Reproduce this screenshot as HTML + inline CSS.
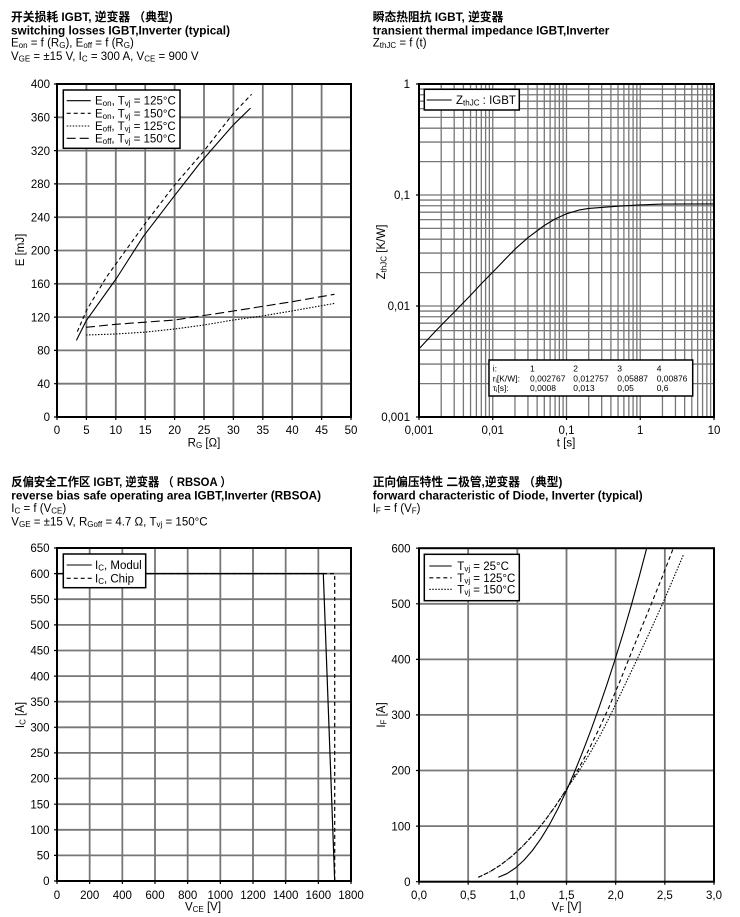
<!DOCTYPE html>
<html><head><meta charset="utf-8"><style>
html,body{margin:0;padding:0;background:#fff;}
svg{display:block;}
text{font-family:"Liberation Sans","Noto Sans CJK SC",sans-serif;fill:#000;}
</style></head><body>
<svg width="740" height="917" viewBox="0 0 740 917" xmlns="http://www.w3.org/2000/svg">
<rect width="740" height="917" fill="#fff"/>

<!-- ================= CHART 1 ================= -->
<text x="11" y="21" font-size="12" font-weight="bold" textLength="161.7" lengthAdjust="spacingAndGlyphs">开关损耗 IGBT, 逆变器 （典型)</text>
<text x="11" y="34.3" font-size="12" font-weight="bold" textLength="219" lengthAdjust="spacingAndGlyphs">switching losses IGBT,Inverter (typical)</text>
<text x="11" y="46.7" font-size="11.5">E<tspan font-size="8" dy="1.5">on</tspan><tspan dy="-1.5"> = f (R</tspan><tspan font-size="8" dy="1.5">G</tspan><tspan dy="-1.5">), E</tspan><tspan font-size="8" dy="1.5">off</tspan><tspan dy="-1.5"> = f (R</tspan><tspan font-size="8" dy="1.5">G</tspan><tspan dy="-1.5">)</tspan></text>
<text x="11" y="60" font-size="11.5">V<tspan font-size="8" dy="1.5">GE</tspan><tspan dy="-1.5"> = ±15 V, I</tspan><tspan font-size="8" dy="1.5">C</tspan><tspan dy="-1.5"> = 300 A, V</tspan><tspan font-size="8" dy="1.5">CE</tspan><tspan dy="-1.5"> = 900 V</tspan></text>

<path d="M86.4 84V417M115.8 84V417M145.2 84V417M174.6 84V417M204 84V417M233.4 84V417M262.8 84V417M292.2 84V417M321.6 84V417M57 383.7H351M57 350.4H351M57 317.1H351M57 283.8H351M57 250.5H351M57 217.2H351M57 183.9H351M57 150.6H351M57 117.3H351" stroke="#777" stroke-width="1.8" fill="none"/>
<path d="M54 84H57M54 117.3H57M54 150.6H57M54 183.9H57M54 217.2H57M54 250.5H57M54 283.8H57M54 317.1H57M54 350.4H57M54 383.7H57M54 417H57M57 417V420M86.4 417V420M115.8 417V420M145.2 417V420M174.6 417V420M204 417V420M233.4 417V420M262.8 417V420M292.2 417V420M321.6 417V420M351 417V420" stroke="#000" stroke-width="1.2"/>

<g fill="none" stroke="#000" stroke-width="1.1" stroke-linejoin="round">
<polyline points="76.4,340.4 86.4,320.4 116.7,278.0 143.4,236.3 174.6,195.6 199.9,163.1 233.4,124.8 250.5,108.1"/>
<polyline stroke-dasharray="4,3" points="77.3,331.7 86.7,310.0 106.7,276.7 145.2,223.4 174.6,185.0 203.4,151.7 233.4,113.3 251.6,94.3"/>
<polyline stroke-dasharray="1.5,1.5" points="86.0,335.0 115.8,334.0 145.2,332.1 174.6,329.0 204,325.0 233.4,320.0 262.8,315.9 293.4,310.7 335.1,303.3"/>
<polyline stroke-dasharray="9,4" points="86.0,327.3 115.8,324.3 174.6,320.0 233.4,311.0 292.2,301.7 334.5,294.3"/>
</g>
<rect x="57" y="84" width="294" height="333" fill="none" stroke="#000" stroke-width="2"/>

<rect x="63.3" y="90" width="116.7" height="58.3" fill="#fff" stroke="#000" stroke-width="1.5"/>
<g stroke="#000" stroke-width="1.1">
<line x1="66.7" y1="100.7" x2="90.7" y2="100.7"/>
<line x1="66.7" y1="113.3" x2="90.7" y2="113.3" stroke-dasharray="4,3"/>
<line x1="66.7" y1="126" x2="90.7" y2="126" stroke-dasharray="1.5,1.5"/>
<line x1="66.7" y1="138.3" x2="90.7" y2="138.3" stroke-dasharray="9,4"/>
</g>
<g font-size="11.5">
<text x="95" y="104.7">E<tspan font-size="8" dy="1.5">on</tspan><tspan dy="-1.5">,  T</tspan><tspan font-size="8" dy="1.5">vj</tspan><tspan dy="-1.5"> = 125°C</tspan></text>
<text x="95" y="117.3">E<tspan font-size="8" dy="1.5">on</tspan><tspan dy="-1.5">,  T</tspan><tspan font-size="8" dy="1.5">vj</tspan><tspan dy="-1.5"> = 150°C</tspan></text>
<text x="95" y="130">E<tspan font-size="8" dy="1.5">off</tspan><tspan dy="-1.5">,  T</tspan><tspan font-size="8" dy="1.5">vj</tspan><tspan dy="-1.5"> = 125°C</tspan></text>
<text x="95" y="142.3">E<tspan font-size="8" dy="1.5">off</tspan><tspan dy="-1.5">,  T</tspan><tspan font-size="8" dy="1.5">vj</tspan><tspan dy="-1.5"> = 150°C</tspan></text>
</g>

<g font-size="11.5" text-anchor="end">
<text x="50" y="88.2">400</text><text x="50" y="121.5">360</text><text x="50" y="154.8">320</text><text x="50" y="188.1">280</text><text x="50" y="221.4">240</text><text x="50" y="254.7">200</text><text x="50" y="288">160</text><text x="50" y="321.3">120</text><text x="50" y="354.6">80</text><text x="50" y="387.9">40</text><text x="50" y="421.2">0</text>
</g>
<g font-size="11.5" text-anchor="middle">
<text x="57" y="434">0</text><text x="86.4" y="434">5</text><text x="115.8" y="434">10</text><text x="145.2" y="434">15</text><text x="174.6" y="434">20</text><text x="204" y="434">25</text><text x="233.4" y="434">30</text><text x="262.8" y="434">35</text><text x="292.2" y="434">40</text><text x="321.6" y="434">45</text><text x="351" y="434">50</text>
<text x="204" y="446.5">R<tspan font-size="8" dy="1.5">G</tspan><tspan dy="-1.5"> [Ω]</tspan></text>
<text transform="translate(24,250) rotate(-90)">E [mJ]</text>
</g>

<!-- ================= CHART 2 ================= -->
<text x="372.7" y="21" font-size="12" font-weight="bold" textLength="130.7" lengthAdjust="spacingAndGlyphs">瞬态热阻抗 IGBT, 逆变器</text>
<text x="372.7" y="34.3" font-size="12" font-weight="bold" textLength="236.7" lengthAdjust="spacingAndGlyphs">transient thermal impedance IGBT,Inverter</text>
<text x="372.7" y="46.7" font-size="11.5">Z<tspan font-size="8" dy="1.5">thJC</tspan><tspan dy="-1.5"> = f (t)</tspan></text>

<path d="M441.2 84V417M454.19 84V417M463.4 84V417M470.55 84V417M476.39 84V417M481.32 84V417M485.6 84V417M489.36 84V417M492.75 84V417M514.95 84V417M527.94 84V417M537.15 84V417M544.3 84V417M550.14 84V417M555.07 84V417M559.35 84V417M563.11 84V417M566.5 84V417M588.7 84V417M601.69 84V417M610.9 84V417M618.05 84V417M623.89 84V417M628.82 84V417M633.1 84V417M636.86 84V417M640.25 84V417M662.45 84V417M675.44 84V417M684.65 84V417M691.8 84V417M697.64 84V417M702.57 84V417M706.85 84V417M710.61 84V417M419 383.59H714M419 364.04H714M419 350.17H714M419 339.41H714M419 330.63H714M419 323.2H714M419 316.76H714M419 311.08H714M419 306H714M419 272.59H714M419 253.04H714M419 239.17H714M419 228.41H714M419 219.63H714M419 212.2H714M419 205.76H714M419 200.08H714M419 195H714M419 161.59H714M419 142.04H714M419 128.17H714M419 117.41H714M419 108.63H714M419 101.2H714M419 94.76H714M419 89.08H714" stroke="#777" stroke-width="1.3" fill="none"/>
<path d="M416 84H419M416 195H419M416 306H419M416 417H419M419 417V420M492.75 417V420M566.5 417V420M640.25 417V420M714 417V420" stroke="#000" stroke-width="1.2"/>
<polyline fill="none" stroke="#000" stroke-width="1.1" stroke-linejoin="round" points="419,348.9 432.0,334.9 441.2,325.3 454.2,312.1 470.6,295.2 481.3,283.7 493.25,271.6 514.95,249.2 527.9,237.7 544.3,225.5 555.1,219.0 566.5,213.8 579.5,209.9 588.7,208.4 618.0,206.2 640.25,204.9 662.4,204.1 714,203.9"/>
<rect x="419" y="84" width="295" height="333" fill="none" stroke="#000" stroke-width="2"/>

<rect x="424.3" y="89.3" width="95" height="20.7" fill="#fff" stroke="#000" stroke-width="1.5"/>
<line x1="426.7" y1="100" x2="451.7" y2="100" stroke="#000" stroke-width="1.1"/>
<text x="456" y="104" font-size="11.5">Z<tspan font-size="8" dy="1.5">thJC</tspan><tspan dy="-1.5"> : IGBT</tspan></text>

<rect x="489" y="360" width="203.7" height="36" fill="#fff" stroke="#000" stroke-width="1.5"/>
<g font-size="8.5">
<text x="492.7" y="371.7">i:</text><text x="530" y="371.7">1</text><text x="573.3" y="371.7">2</text><text x="617.3" y="371.7">3</text><text x="656.7" y="371.7">4</text>
<text x="492.7" y="381.5">r<tspan font-size="6" dy="1">i</tspan><tspan dy="-1">[K/W]:</tspan></text><text x="530" y="381.5">0,002767</text><text x="573.3" y="381.5">0,012757</text><text x="617.3" y="381.5">0,05887</text><text x="656.7" y="381.5">0,00876</text>
<text x="492.7" y="390.8">τ<tspan font-size="6" dy="1">i</tspan><tspan dy="-1">[s]:</tspan></text><text x="530" y="390.8">0,0008</text><text x="573.3" y="390.8">0,013</text><text x="617.3" y="390.8">0,05</text><text x="656.7" y="390.8">0,6</text>
</g>

<g font-size="11.5" text-anchor="end">
<text x="410" y="88.2">1</text><text x="410" y="199.2">0,1</text><text x="410" y="310.2">0,01</text><text x="410" y="421.2">0,001</text>
</g>
<g font-size="11.5" text-anchor="middle">
<text x="419" y="434">0,001</text><text x="492.75" y="434">0,01</text><text x="566.5" y="434">0,1</text><text x="640.25" y="434">1</text><text x="714" y="434">10</text>
<text x="566" y="446.5">t [s]</text>
<text transform="translate(385,252) rotate(-90)">Z<tspan font-size="8" dy="1.5">thJC</tspan><tspan dy="-1.5"> [K/W]</tspan></text>
</g>

<!-- ================= CHART 3 ================= -->
<text x="11.3" y="486" font-size="12" font-weight="bold" textLength="220.3" lengthAdjust="spacingAndGlyphs">反偏安全工作区 IGBT, 逆变器 （ RBSOA ）</text>
<text x="11.3" y="499.3" font-size="12" font-weight="bold" textLength="309.7" lengthAdjust="spacingAndGlyphs">reverse bias safe operating area IGBT,Inverter (RBSOA)</text>
<text x="11.3" y="512" font-size="11.5">I<tspan font-size="8" dy="1.5">C</tspan><tspan dy="-1.5"> = f (V</tspan><tspan font-size="8" dy="1.5">CE</tspan><tspan dy="-1.5">)</tspan></text>
<text x="11.3" y="525.3" font-size="11.5">V<tspan font-size="8" dy="1.5">GE</tspan><tspan dy="-1.5"> = ±15 V, R</tspan><tspan font-size="8" dy="1.5">Goff</tspan><tspan dy="-1.5"> = 4.7 Ω, T</tspan><tspan font-size="8" dy="1.5">vj</tspan><tspan dy="-1.5"> = 150°C</tspan></text>

<path d="M89.67 548V881M122.33 548V881M155 548V881M187.67 548V881M220.33 548V881M253 548V881M285.67 548V881M318.33 548V881M57 855.4H351M57 829.8H351M57 804.2H351M57 778.5H351M57 752.9H351M57 727.3H351M57 701.7H351M57 676.1H351M57 650.5H351M57 624.9H351M57 599.2H351M57 573.6H351" stroke="#777" stroke-width="1.8" fill="none"/>
<path d="M54 548H57M54 573.6H57M54 599.2H57M54 624.9H57M54 650.5H57M54 676.1H57M54 701.7H57M54 727.3H57M54 752.9H57M54 778.5H57M54 804.2H57M54 829.8H57M54 855.4H57M54 881H57M57 881V884M89.67 881V884M122.33 881V884M155 881V884M187.67 881V884M220.33 881V884M253 881V884M285.67 881V884M318.33 881V884M351 881V884" stroke="#000" stroke-width="1.2"/>
<polyline fill="none" stroke="#000" stroke-width="1.2" points="57,573.6 323.3,573.6 334.7,881"/>
<polyline fill="none" stroke="#000" stroke-width="1.2" stroke-dasharray="4,3" points="57,573.6 334.7,573.6 334.7,881"/>
<rect x="57" y="548" width="294" height="333" fill="none" stroke="#000" stroke-width="2"/>

<rect x="63.3" y="554" width="82.4" height="33.7" fill="#fff" stroke="#000" stroke-width="1.5"/>
<line x1="66.7" y1="565" x2="91.7" y2="565" stroke="#000" stroke-width="1.1"/>
<line x1="66.7" y1="578.3" x2="91.7" y2="578.3" stroke="#000" stroke-width="1.1" stroke-dasharray="4,3"/>
<g font-size="11.5">
<text x="95" y="569">I<tspan font-size="8" dy="1.5">C</tspan><tspan dy="-1.5">, Modul</tspan></text>
<text x="95" y="582.3">I<tspan font-size="8" dy="1.5">C</tspan><tspan dy="-1.5">, Chip</tspan></text>
</g>

<g font-size="11.5" text-anchor="end">
<text x="49.5" y="552.2">650</text><text x="49.5" y="577.8">600</text><text x="49.5" y="603.4">550</text><text x="49.5" y="629.1">500</text><text x="49.5" y="654.7">450</text><text x="49.5" y="680.3">400</text><text x="49.5" y="705.9">350</text><text x="49.5" y="731.5">300</text><text x="49.5" y="757.1">250</text><text x="49.5" y="782.7">200</text><text x="49.5" y="808.4">150</text><text x="49.5" y="834">100</text><text x="49.5" y="859.6">50</text><text x="49.5" y="885.2">0</text>
</g>
<g font-size="11.5" text-anchor="middle">
<text x="57" y="899">0</text><text x="89.67" y="899">200</text><text x="122.33" y="899">400</text><text x="155" y="899">600</text><text x="187.67" y="899">800</text><text x="220.33" y="899">1000</text><text x="253" y="899">1200</text><text x="285.67" y="899">1400</text><text x="318.33" y="899">1600</text><text x="351" y="899">1800</text>
<text x="203" y="910.5">V<tspan font-size="8" dy="1.5">CE</tspan><tspan dy="-1.5">   [V]</tspan></text>
<text transform="translate(24,715) rotate(-90)">I<tspan font-size="8" dy="1.5">C</tspan><tspan dy="-1.5"> [A]</tspan></text>
</g>

<!-- ================= CHART 4 ================= -->
<text x="372.7" y="486" font-size="12" font-weight="bold" textLength="189.7" lengthAdjust="spacingAndGlyphs">正向偏压特性 二极管,逆变器 （典型)</text>
<text x="372.7" y="499.3" font-size="12" font-weight="bold" textLength="270" lengthAdjust="spacingAndGlyphs">forward characteristic of Diode, Inverter (typical)</text>
<text x="372.7" y="512" font-size="11.5">I<tspan font-size="8" dy="1.5">F</tspan><tspan dy="-1.5"> = f (V</tspan><tspan font-size="8" dy="1.5">F</tspan><tspan dy="-1.5">)</tspan></text>

<path d="M468.17 548V881.7M517.33 548V881.7M566.5 548V881.7M615.67 548V881.7M664.83 548V881.7M419 826.1H714M419 770.5H714M419 714.9H714M419 659.4H714M419 603.8H714" stroke="#777" stroke-width="1.8" fill="none"/>
<path d="M416 548.2H419M416 603.8H419M416 659.4H419M416 714.9H419M416 770.5H419M416 826.1H419M416 881.7H419M419 881.7V884.7M468.17 881.7V884.7M517.33 881.7V884.7M566.5 881.7V884.7M615.67 881.7V884.7M664.83 881.7V884.7M714 881.7V884.7" stroke="#000" stroke-width="1.2"/>
<g fill="none" stroke="#000" stroke-width="1.1" stroke-linejoin="round">
<polyline points="498.3,877.3 506.85,873.69 515.4,868.0 523.95,860.23 532.5,850.37 541.05,838.43 549.6,824.4 558.15,808.29 566.7,790.1 574.75,771.38 582.8,751.46 590.85,730.33 598.9,707.99 606.95,684.44 615,659.69 623.08,633.49 631.15,605.79 639.23,576.57 646.7,548.2"/>
<polyline stroke-dasharray="4,3" points="478.3,877.3 489.35,872.05 500.4,865.14 511.45,856.58 522.5,846.36 533.55,834.48 544.6,820.94 555.65,805.75 566.7,788.9 577.25,771.1 587.8,751.6 598.35,730.3 608.9,707.3 619.45,682.5 630,656.0 641.2,628.5 652.5,601 663,575 673.3,548.2"/>
<polyline stroke-dasharray="1.5,1.5" points="478.3,877.3 489.35,872.05 500.4,865.14 511.45,856.58 522.5,846.36 533.55,834.48 544.6,820.94 555.65,805.75 566.7,788.9 577.8,772.8 588.9,755.0 600,735.6 610,716.1 623.3,688.2 636.7,660.1 649.7,632.1 662.7,603.5 673,579.3 683.3,555.1"/>
</g>
<rect x="419" y="548.2" width="295" height="333.5" fill="none" stroke="#000" stroke-width="2"/>

<rect x="424.3" y="554.3" width="95" height="46.4" fill="#fff" stroke="#000" stroke-width="1.5"/>
<g stroke="#000" stroke-width="1.1">
<line x1="429.3" y1="566" x2="451.7" y2="566"/>
<line x1="429.3" y1="577.8" x2="451.7" y2="577.8" stroke-dasharray="4,3"/>
<line x1="429.3" y1="589.3" x2="451.7" y2="589.3" stroke-dasharray="1.5,1.5"/>
</g>
<g font-size="11.5">
<text x="457.3" y="570">T<tspan font-size="8" dy="1.5">vj</tspan><tspan dy="-1.5"> = 25°C</tspan></text>
<text x="457.3" y="581.8">T<tspan font-size="8" dy="1.5">vj</tspan><tspan dy="-1.5"> = 125°C</tspan></text>
<text x="457.3" y="593.3">T<tspan font-size="8" dy="1.5">vj</tspan><tspan dy="-1.5"> = 150°C</tspan></text>
</g>

<g font-size="11.5" text-anchor="end">
<text x="410.5" y="552.4">600</text><text x="410.5" y="608">500</text><text x="410.5" y="663.6">400</text><text x="410.5" y="719.1">300</text><text x="410.5" y="774.7">200</text><text x="410.5" y="830.3">100</text><text x="410.5" y="885.9">0</text>
</g>
<g font-size="11.5" text-anchor="middle">
<text x="419" y="899">0,0</text><text x="468.17" y="899">0,5</text><text x="517.33" y="899">1,0</text><text x="566.5" y="899">1,5</text><text x="615.67" y="899">2,0</text><text x="664.83" y="899">2,5</text><text x="714" y="899">3,0</text>
<text x="566.5" y="910.5">V<tspan font-size="8" dy="1.5">F</tspan><tspan dy="-1.5"> [V]</tspan></text>
<text transform="translate(385,715) rotate(-90)">I<tspan font-size="8" dy="1.5">F</tspan><tspan dy="-1.5"> [A]</tspan></text>
</g>
</svg>
</body></html>
